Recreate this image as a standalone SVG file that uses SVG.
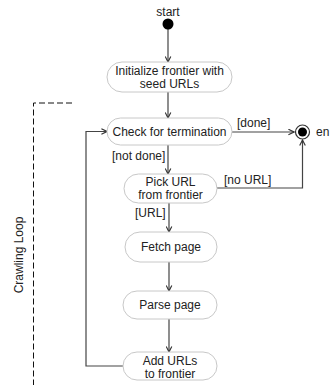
<svg xmlns="http://www.w3.org/2000/svg" width="331" height="385" viewBox="0 0 331 385">
<style>
text{font-family:"Liberation Sans",Arial,sans-serif;font-size:12px;fill:#222}
.lbl{text-anchor:middle}
.node rect{fill:#fff;stroke:#c8c8c8;stroke-width:1}
.c{fill:none;stroke:#444;stroke-width:1.2}
.frame{fill:none;stroke:#111;stroke-width:1;stroke-dasharray:6,3}
</style>
<defs>
<marker id="a" viewBox="0 0 10 10" refX="9" refY="5" markerWidth="7" markerHeight="7" orient="auto" markerUnits="userSpaceOnUse">
<path d="M1,1 L9,5 L1,9" fill="none" stroke="#333" stroke-width="1.6"/>
</marker>
</defs>
<rect width="331" height="385" fill="#fff"/>
<g id="frame">
<path class="frame" d="M72,103 H33.5 V385"/>
<text class="lbl" transform="translate(23,255) rotate(-90)">Crawling Loop</text>
</g>
<g id="connectors">
<path class="c" d="M168,29 V62" marker-end="url(#a)"/>
<path class="c" d="M168,92 V118" marker-end="url(#a)"/>
<path class="c" d="M232,132 H294" marker-end="url(#a)"/>
<text x="237" y="127">[done]</text>
<path class="c" d="M168,145 V174" marker-end="url(#a)"/>
<text x="112" y="160">[not done]</text>
<path class="c" d="M217,188 H302.5 V140" marker-end="url(#a)"/>
<text x="224" y="184">[no URL]</text>
<path class="c" d="M169,203 V232" marker-end="url(#a)"/>
<text x="135" y="217">[URL]</text>
<path class="c" d="M169,262 V291" marker-end="url(#a)"/>
<path class="c" d="M169,319 V352" marker-end="url(#a)"/>
<path class="c" d="M123,366 H86 V131.5 H107" marker-end="url(#a)"/>
</g>
<g id="start">
<circle cx="168" cy="24" r="5.5" fill="#000"/>
<text class="lbl" x="168" y="16">start</text>
</g>
<g id="end">
<circle cx="302.5" cy="132" r="7" fill="#fff" stroke="#333" stroke-width="1.2"/>
<circle cx="302.5" cy="132" r="4.5" fill="#000"/>
<text x="316" y="136">en</text>
</g>
<g id="init" class="node">
<rect x="107" y="62" width="125" height="30" rx="15"/>
<text class="lbl" x="169.5" y="75">Initialize frontier with</text>
<text class="lbl" x="169.5" y="88">seed URLs</text>
</g>
<g id="check" class="node">
<rect x="107" y="118" width="125" height="27" rx="13.5"/>
<text class="lbl" x="169.5" y="136">Check for termination</text>
</g>
<g id="pick" class="node">
<rect x="124" y="174" width="93" height="29" rx="14.5"/>
<text class="lbl" x="170.5" y="186">Pick URL</text>
<text class="lbl" x="170.5" y="199">from frontier</text>
</g>
<g id="fetch" class="node">
<rect x="125" y="232" width="92" height="30" rx="15"/>
<text class="lbl" x="171" y="251">Fetch page</text>
</g>
<g id="parse" class="node">
<rect x="123" y="291" width="94" height="28" rx="14"/>
<text class="lbl" x="170" y="309">Parse page</text>
</g>
<g id="add" class="node">
<rect x="123" y="352" width="94" height="28" rx="14"/>
<text class="lbl" x="170" y="365">Add URLs</text>
<text class="lbl" x="170" y="378">to frontier</text>
</g>
</svg>
